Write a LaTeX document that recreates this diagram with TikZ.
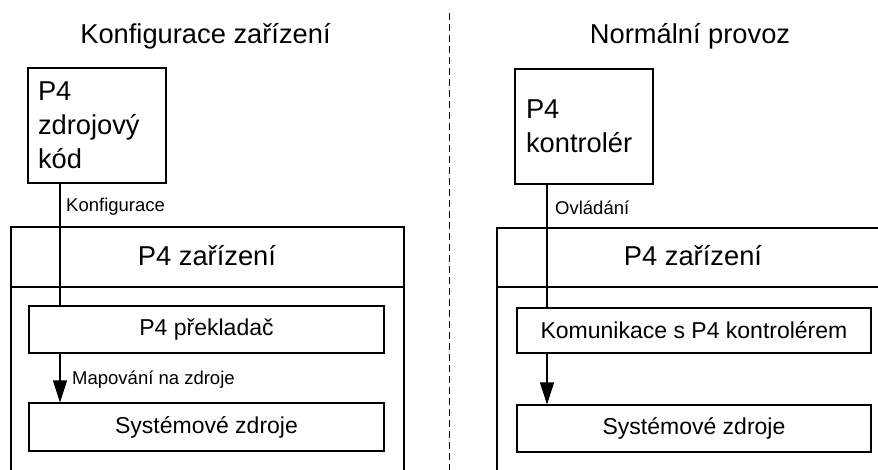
\documentclass[tikz,border=0pt]{standalone}
\usepackage{fontspec}
\setmainfont{Liberation Sans}
\usetikzlibrary{arrows.meta,calc}
\begin{document}
\begin{tikzpicture}[x=1pt,y=-1pt,
  box/.style={draw, line width=1.1pt, inner sep=0pt, rectangle},
  big/.style={font=\fontsize{27.3}{34}\selectfont},
  mid/.style={font=\fontsize{23}{28}\selectfont},
  small/.style={font=\fontsize{18.5}{22}\selectfont},
  conn/.style={line width=1.1pt},
  arr/.style={line width=1.1pt, -{Triangle[length=22pt,width=14pt]}}]
\useasboundingbox (0,0) rectangle (878,469);
\clip (0,0) rectangle (878,469);
% titles
\node[big, anchor=base] (t1) at (205.5,43) {Konfigurace zařízení};
\node[big, anchor=base] (t2) at (690,43) {Normální provoz};
% separator
\draw[line width=1pt, dash pattern=on 7pt off 4pt] (449,13) -- (449,475);
% left side
\node[box, big, minimum width=138pt, minimum height=115pt, text width=118pt, align=left] (src) at (97,125.5) {P4\\zdrojový\\kód};
\node[box, minimum width=393pt, minimum height=293pt] (devL) at (207.5,373.5) {};
\draw[conn] (devL.west |- 0,287) -- (devL.east |- 0,287);
\node[big, anchor=base] (hdrL) at (207,265) {P4 zařízení};
\node[box, mid, minimum width=355pt, minimum height=47pt] (comp) at (206.5,329.5) {P4 překladač};
\node[box, mid, minimum width=355pt, minimum height=48pt] (resL) at (206.5,427) {Systémové zdroje};
\coordinate (lx) at (60,0);
\draw[conn] (src.south -| lx) -- (comp.north -| lx);
\draw[arr] (comp.south -| lx) -- (resL.north -| lx);
\node[small, anchor=west, inner sep=0pt] (lab1) at (66,207) {Konfigurace};
\node[small, anchor=west, inner sep=0pt] (lab2) at (72,380) {Mapování na zdroje};
% right side
\node[box, big, minimum width=138pt, minimum height=115pt, text width=116pt, align=left] (ctl) at (584,126.5) {P4\\kontrolér};
\node[box, minimum width=403pt, minimum height=292pt] (devR) at (698.5,374) {};
\draw[conn] (devR.west |- 0,287) -- (devR.east |- 0,287);
\node[big, anchor=base] (hdrR) at (693,265) {P4 zařízení};
\node[box, mid, minimum width=354pt, minimum height=45pt] (comm) at (694,330.5) {Komunikace s P4 kontrolérem};
\node[box, mid, minimum width=354pt, minimum height=47pt] (resR) at (694,428.5) {Systémové zdroje};
\coordinate (rx) at (547,0);
\draw[conn] (ctl.south -| rx) -- (comm.north -| rx);
\draw[arr] (comm.south -| rx) -- (resR.north -| rx);
\node[small, anchor=west, inner sep=0pt] (lab3) at (555,208) {Ovládání};
\end{tikzpicture}
\end{document}
